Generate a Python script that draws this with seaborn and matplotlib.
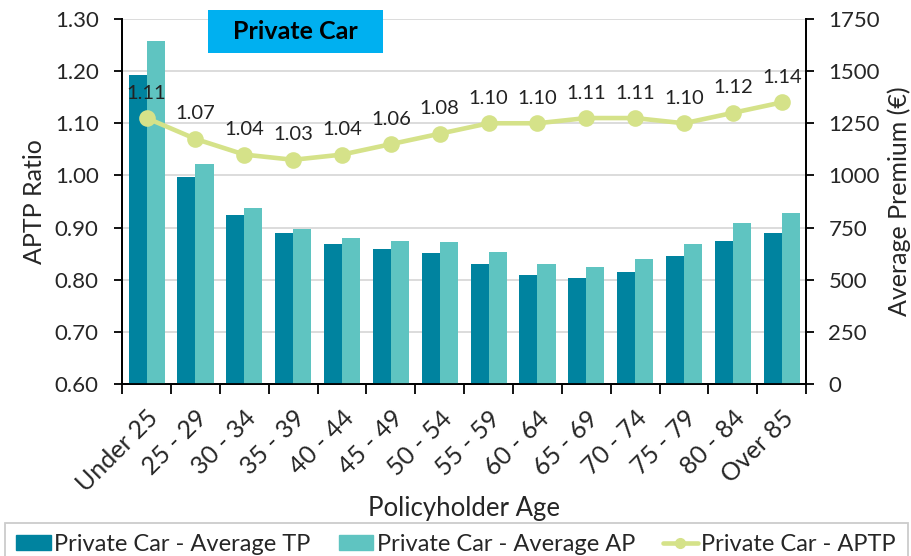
import matplotlib
matplotlib.use("Agg")
from matplotlib import pyplot as plt
from matplotlib.ticker import FixedLocator
import seaborn as sns
import pandas as pd
import numpy as np

ages = ["Under 25", "25 - 29", "30 - 34", "35 - 39", "40 - 44", "45 - 49", "50 - 54",
        "55 - 59", "60 - 64", "65 - 69", "70 - 74", "75 - 79", "80 - 84", "Over 85"]
avg_tp = [1481, 991, 812, 722, 670, 646, 628, 577, 523, 507, 539, 612, 686, 723]
avg_ap = [1645, 1055, 844, 742, 699, 686, 681, 633, 575, 560, 598, 673, 770, 821]
aptp = [1.11, 1.07, 1.04, 1.03, 1.04, 1.06, 1.08, 1.10, 1.10, 1.11, 1.11, 1.10, 1.12, 1.14]

tp_name = "Private Car - Average TP"
ap_name = "Private Car - Average AP"
line_name = "Private Car - APTP"

c_tp = "#00839f"
c_ap = "#5fc4c1"
c_line = "#d5e289"

sns.set_theme(style="white")
plt.rcParams["font.family"] = ["Lato", "DejaVu Sans"]

bars = pd.DataFrame({
    "age": ages * 2,
    "premium": avg_tp + avg_ap,
    "series": [tp_name] * len(ages) + [ap_name] * len(ages),
})

fig = plt.figure(figsize=(9.12, 5.56), dpi=100)
ax_bar = fig.add_axes([0.134, 0.309, 0.750, 0.657])

# bars live on the premium axis (drawn on the right)
sns.barplot(data=bars, x="age", y="premium", hue="series", order=ages,
            palette=[c_tp, c_ap], width=0.74, gap=0, saturation=1,
            edgecolor="none", linewidth=0, ax=ax_bar, legend=False, zorder=3)
ax_bar.set_ylim(0, 1750)
ax_bar.set_yticks(np.arange(0, 1751, 250))
ax_bar.grid(axis="y", color="#d9d9d9", linewidth=1.3, zorder=0)
ax_bar.set_axisbelow(True)

ax_line = ax_bar.twinx()
# twinx puts the original axis on the left, swap sides afterwards
ax_bar.yaxis.tick_right()
ax_bar.yaxis.set_label_position("right")
ax_bar.set_ylabel("Average Premium (€)", fontsize=18, labelpad=5)

sns.pointplot(x=ages, y=aptp, order=ages, color=c_line, markers="o",
              markersize=9.5, linewidth=3.3, ax=ax_line)
ax_line.yaxis.tick_left()
ax_line.yaxis.set_label_position("left")
ax_line.set_ylim(0.6, 1.3)
ax_line.set_yticks(np.arange(0.6, 1.301, 0.1))
ax_line.set_yticklabels([f"{v:.2f}" for v in np.arange(0.6, 1.301, 0.1)])
ax_line.set_ylabel("APTP Ratio", fontsize=18, labelpad=6)
for i, v in enumerate(aptp):
    ax_line.annotate(f"{v:.2f}", (i, v), xytext=(0, 18), textcoords="offset points",
                     ha="center", va="center", fontsize=14.5, color="#222222")

for ax in (ax_bar, ax_line):
    ax.set_xlim(-0.5, len(ages) - 0.5)
    for s in ax.spines.values():
        s.set_color("black")
        s.set_linewidth(1.3)
    ax.spines["top"].set_visible(False)
    ax.tick_params(axis="y", labelsize=16, length=6, width=1.3, color="black",
                   direction="out")
ax_line.tick_params(axis="y", pad=11)
ax_bar.tick_params(axis="y", pad=10)

ax_bar.set_xticks(range(len(ages)))
ax_bar.set_xticklabels(ages, rotation=45, ha="right", rotation_mode="anchor", fontsize=18)
ax_bar.xaxis.set_minor_locator(FixedLocator(np.arange(-0.5, len(ages), 1.0)))
ax_bar.tick_params(axis="x", which="major", length=0, pad=16)
ax_bar.tick_params(axis="x", which="minor", length=7, width=1.3, color="black",
                   direction="out", bottom=True)
ax_bar.set_xlabel("Policyholder Age", fontsize=18.5, labelpad=0)
ax_line.set_xlabel("")
ax_line.tick_params(axis="x", bottom=False, labelbottom=False)

# title box
fig.patches.append(plt.Rectangle((0.228, 0.905), 0.192, 0.077, transform=fig.transFigure,
                                 facecolor="#00b0f0", edgecolor="none", zorder=5))
fig.text(0.324, 0.943, "Private Car", ha="center", va="center", fontsize=18,
         fontweight="bold", color="black", zorder=6)

handles = [
    plt.Rectangle((0, 0), 1, 1, color=c_tp),
    plt.Rectangle((0, 0), 1, 1, color=c_ap),
    plt.Line2D([], [], color=c_line, linewidth=3.3, marker="o", markersize=7),
]
leg = fig.legend(handles, [tp_name, ap_name, line_name], loc="lower left",
                 bbox_to_anchor=(0.005, -0.02), ncol=3,
                 fontsize=17, frameon=True, fancybox=False, edgecolor="#bfbfbf",
                 handlelength=1.45, handleheight=0.6, handletextpad=0.15,
                 columnspacing=1.2, borderaxespad=0.0, borderpad=0.5)
leg.get_frame().set_linewidth(1.3)

fig.savefig("out.png", dpi=100)
plt.close(fig)
